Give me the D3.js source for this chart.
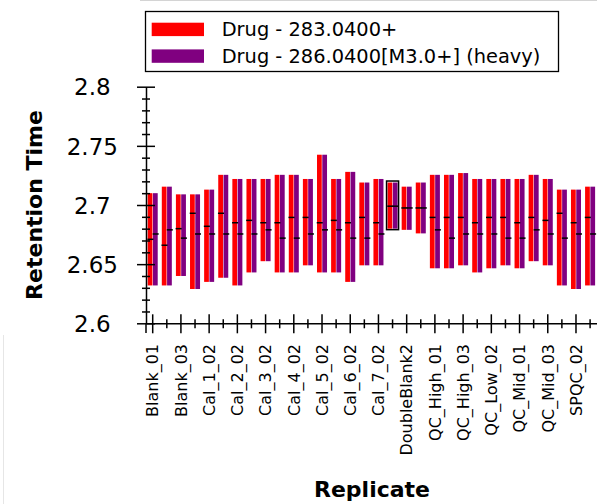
<!DOCTYPE html>
<html>
<head>
<meta charset="utf-8">
<script src="https://cdn.jsdelivr.net/npm/d3@7"></script>
<style>
  body {
    margin: 0;
    background: #fff;
  }

  svg {
    display: block;
    font-family: "DejaVu Sans", sans-serif;
  }

  .axis path,
  .axis line {
    fill: none;
    stroke: #000;
    stroke-width: 1.5px;
  }

  .axis text {
    fill: #000;
  }

  .title {
    font-weight: bold;
    font-size: 22px;
  }
</style>
</head>
<body>
<div id="container"></div>
<script>
  // replicate names (only every other one gets a label on the axis)
  const replicates = [
    "Blank_01", "Blank_02", "Blank_03", "Cal_1_01", "Cal_1_02", "Cal_2_01", "Cal_2_02",
    "Cal_3_01", "Cal_3_02", "Cal_4_01", "Cal_4_02", "Cal_5_01", "Cal_5_02", "Cal_6_01",
    "Cal_6_02", "Cal_7_01", "Cal_7_02", "DoubleBlank1", "DoubleBlank2", "DoubleBlank3",
    "QC_High_01", "QC_High_02", "QC_High_03", "QC_Low_01", "QC_Low_02", "QC_Low_03",
    "QC_Mid_01", "QC_Mid_02", "QC_Mid_03", "SPQC_01", "SPQC_02", "SPQC_03"
  ];

  // peak boundaries (same for light and heavy)
  const peakEnd = [
    2.710, 2.7155, 2.709, 2.709, 2.713, 2.7255, 2.722, 2.722, 2.722, 2.7255, 2.7255,
    2.722, 2.7425, 2.722, 2.728, 2.719, 2.722, 2.719, 2.7155, 2.719, 2.7255, 2.7255,
    2.727, 2.722, 2.722, 2.722, 2.722, 2.7255, 2.722, 2.713, 2.713, 2.7155
  ];
  const peakStart = [
    2.632, 2.632, 2.640, 2.629, 2.635, 2.6385, 2.632, 2.643, 2.6525, 2.643, 2.643,
    2.649, 2.643, 2.643, 2.635, 2.649, 2.649, 2.680, 2.679, 2.676, 2.6465, 2.6465,
    2.649, 2.643, 2.6465, 2.649, 2.6465, 2.6525, 2.649, 2.632, 2.629, 2.632
  ];

  // apex retention times
  const lightApex = [
    2.671, 2.666, 2.680, 2.693, 2.682, 2.693, 2.685, 2.687, 2.685, 2.685, 2.6895,
    2.6895, 2.685, 2.687, 2.685, 2.6895, 2.685, 2.699, 2.6975, 2.6975, 2.6895, 2.6895,
    2.6895, 2.685, 2.6895, 2.6895, 2.685, 2.6895, 2.687, 2.693, 2.685, 2.6895
  ];
  const heavyApex = [
    2.6755, 2.679, 2.672, 2.6755, 2.6755, 2.6755, 2.6755, 2.6755, 2.679, 2.672, 2.672,
    2.6755, 2.679, 2.679, 2.672, 2.672, 2.6755, 2.699, 2.6975, 2.6975, 2.679, 2.672,
    2.6755, 2.6755, 2.6755, 2.672, 2.672, 2.679, 2.6755, 2.672, 2.6755, 2.6755
  ];

  const seriesNames = ["Drug - 283.0400+", "Drug - 286.0400[M3.0+] (heavy)"];
  const seriesColors = ["#ff0000", "#800080"];
  const selectedReplicate = "DoubleBlank1";

  let width = 597;
  let height = 504;

  let svg = d3.select("#container").append("svg")
    .attr("width", width)
    .attr("height", height);

  // faint window edges
  svg.append("line")
    .attr("x1", 140).attr("x2", width).attr("y1", 0.5).attr("y2", 0.5)
    .attr("stroke", "#d4d4d4");
  svg.append("line")
    .attr("x1", 3.5).attr("x2", 3.5).attr("y1", 335).attr("y2", height)
    .attr("stroke", "#e6e6e6");

  let scaleX = d3.scaleBand()
    .domain(replicates)
    .range([146, 596.8])
    .paddingInner(0.29)
    .paddingOuter(0.12);

  let scaleSub = d3.scaleBand()
    .domain([0, 1])
    .range([0, scaleX.bandwidth()])
    .paddingInner(0.1);

  let scaleY = d3.scaleLinear()
    .domain([2.6, 2.8])
    .range([323.3, 86.7]);

  let peaks = [];
  replicates.forEach(function(r, i) {
    peaks.push({ rep: r, s: 0, start: peakStart[i], end: peakEnd[i], apex: lightApex[i] });
    peaks.push({ rep: r, s: 1, start: peakStart[i], end: peakEnd[i], apex: heavyApex[i] });
  });

  // peak bars
  svg.append("g")
    .selectAll("rect")
    .data(peaks)
    .join("rect")
    .attr("x", d => scaleX(d.rep) + scaleSub(d.s))
    .attr("y", d => scaleY(d.end))
    .attr("width", scaleSub.bandwidth())
    .attr("height", d => scaleY(d.start) - scaleY(d.end))
    .attr("fill", d => seriesColors[d.s]);

  // apex marks
  svg.append("g")
    .selectAll("line")
    .data(peaks)
    .join("line")
    .attr("x1", d => scaleX(d.rep) + scaleSub(d.s) - 0.3)
    .attr("x2", d => scaleX(d.rep) + scaleSub(d.s) + scaleSub.bandwidth() + 1)
    .attr("y1", d => scaleY(d.apex))
    .attr("y2", d => scaleY(d.apex))
    .attr("stroke", "#000")
    .attr("stroke-width", 1.5);

  // selected replicate box
  let si = replicates.indexOf(selectedReplicate);
  svg.append("rect")
    .attr("x", scaleX(selectedReplicate) - 1)
    .attr("y", scaleY(peakEnd[si]) - 1.5)
    .attr("width", scaleX.bandwidth() + 2)
    .attr("height", scaleY(peakStart[si]) - scaleY(peakEnd[si]) + 2.5)
    .attr("fill", "none")
    .attr("stroke", "#000")
    .attr("stroke-width", 1.5);

  // y axis
  let isMajorY = d => Math.round(d * 100) % 5 === 0;
  let yAxis = d3.axisLeft(scaleY)
    .tickValues(scaleY.ticks(20))
    .tickSizeOuter(0)
    .tickFormat(d => isMajorY(d) ? String(+d.toFixed(2)) : "");

  let gy = svg.append("g")
    .attr("class", "y axis")
    .attr("transform", "translate(146,0)")
    .call(yAxis)
    .attr("font-family", "DejaVu Sans, sans-serif")
    .attr("font-size", 23);

  gy.selectAll(".tick line")
    .attr("x1", d => isMajorY(d) ? 9 : 4)
    .attr("x2", d => isMajorY(d) ? -9 : -4);

  gy.selectAll(".tick text")
    .attr("x", -53.7)
    .attr("dy", "0.36em")
    .attr("text-anchor", "middle");

  // x axis
  let isMajorX = d => replicates.indexOf(d) % 2 === 0;
  let xAxis = d3.axisBottom(scaleX)
    .tickSizeOuter(0)
    .tickFormat(d => isMajorX(d) ? d : "");

  let gx = svg.append("g")
    .attr("class", "x axis")
    .attr("transform", "translate(0,323.3)")
    .call(xAxis)
    .attr("font-family", "DejaVu Sans, sans-serif")
    .attr("font-size", 16);

  gx.selectAll(".tick line")
    .attr("y1", d => isMajorX(d) ? -9 : -4)
    .attr("y2", d => isMajorX(d) ? 10 : 5);

  gx.selectAll(".tick text")
    .attr("transform", "rotate(-90)")
    .attr("x", -20.7)
    .attr("y", 0)
    .attr("dy", "0.36em")
    .attr("text-anchor", "end");

  // little stub below the axis corner
  svg.append("line")
    .attr("x1", 146).attr("x2", 146).attr("y1", 323.3).attr("y2", 333)
    .attr("stroke", "#000")
    .attr("stroke-width", 1.5);

  // axis titles
  svg.append("text")
    .attr("class", "title")
    .attr("transform", "translate(41.7,205) rotate(-90)")
    .attr("text-anchor", "middle")
    .text("Retention Time");

  svg.append("text")
    .attr("class", "title")
    .attr("x", 372)
    .attr("y", 497)
    .attr("text-anchor", "middle")
    .text("Replicate");

  // legend
  let legend = svg.append("g");
  legend.append("rect")
    .attr("x", 145.5)
    .attr("y", 11.5)
    .attr("width", 413)
    .attr("height", 60)
    .attr("fill", "#fff")
    .attr("stroke", "#000")
    .attr("stroke-width", 1.3);

  let items = legend.selectAll("g.item")
    .data(seriesNames)
    .join("g")
    .attr("class", "item")
    .attr("transform", (d, i) => "translate(0," + (29.5 + i * 26.7) + ")");

  items.append("rect")
    .attr("x", 151.7)
    .attr("y", -6.8)
    .attr("width", 52.3)
    .attr("height", 13.4)
    .attr("fill", (d, i) => seriesColors[i]);

  items.append("text")
    .attr("x", 221.7)
    .attr("y", 0)
    .attr("dy", "0.36em")
    .attr("font-size", 19.4)
    .text(d => d);
</script>
</body>
</html>
